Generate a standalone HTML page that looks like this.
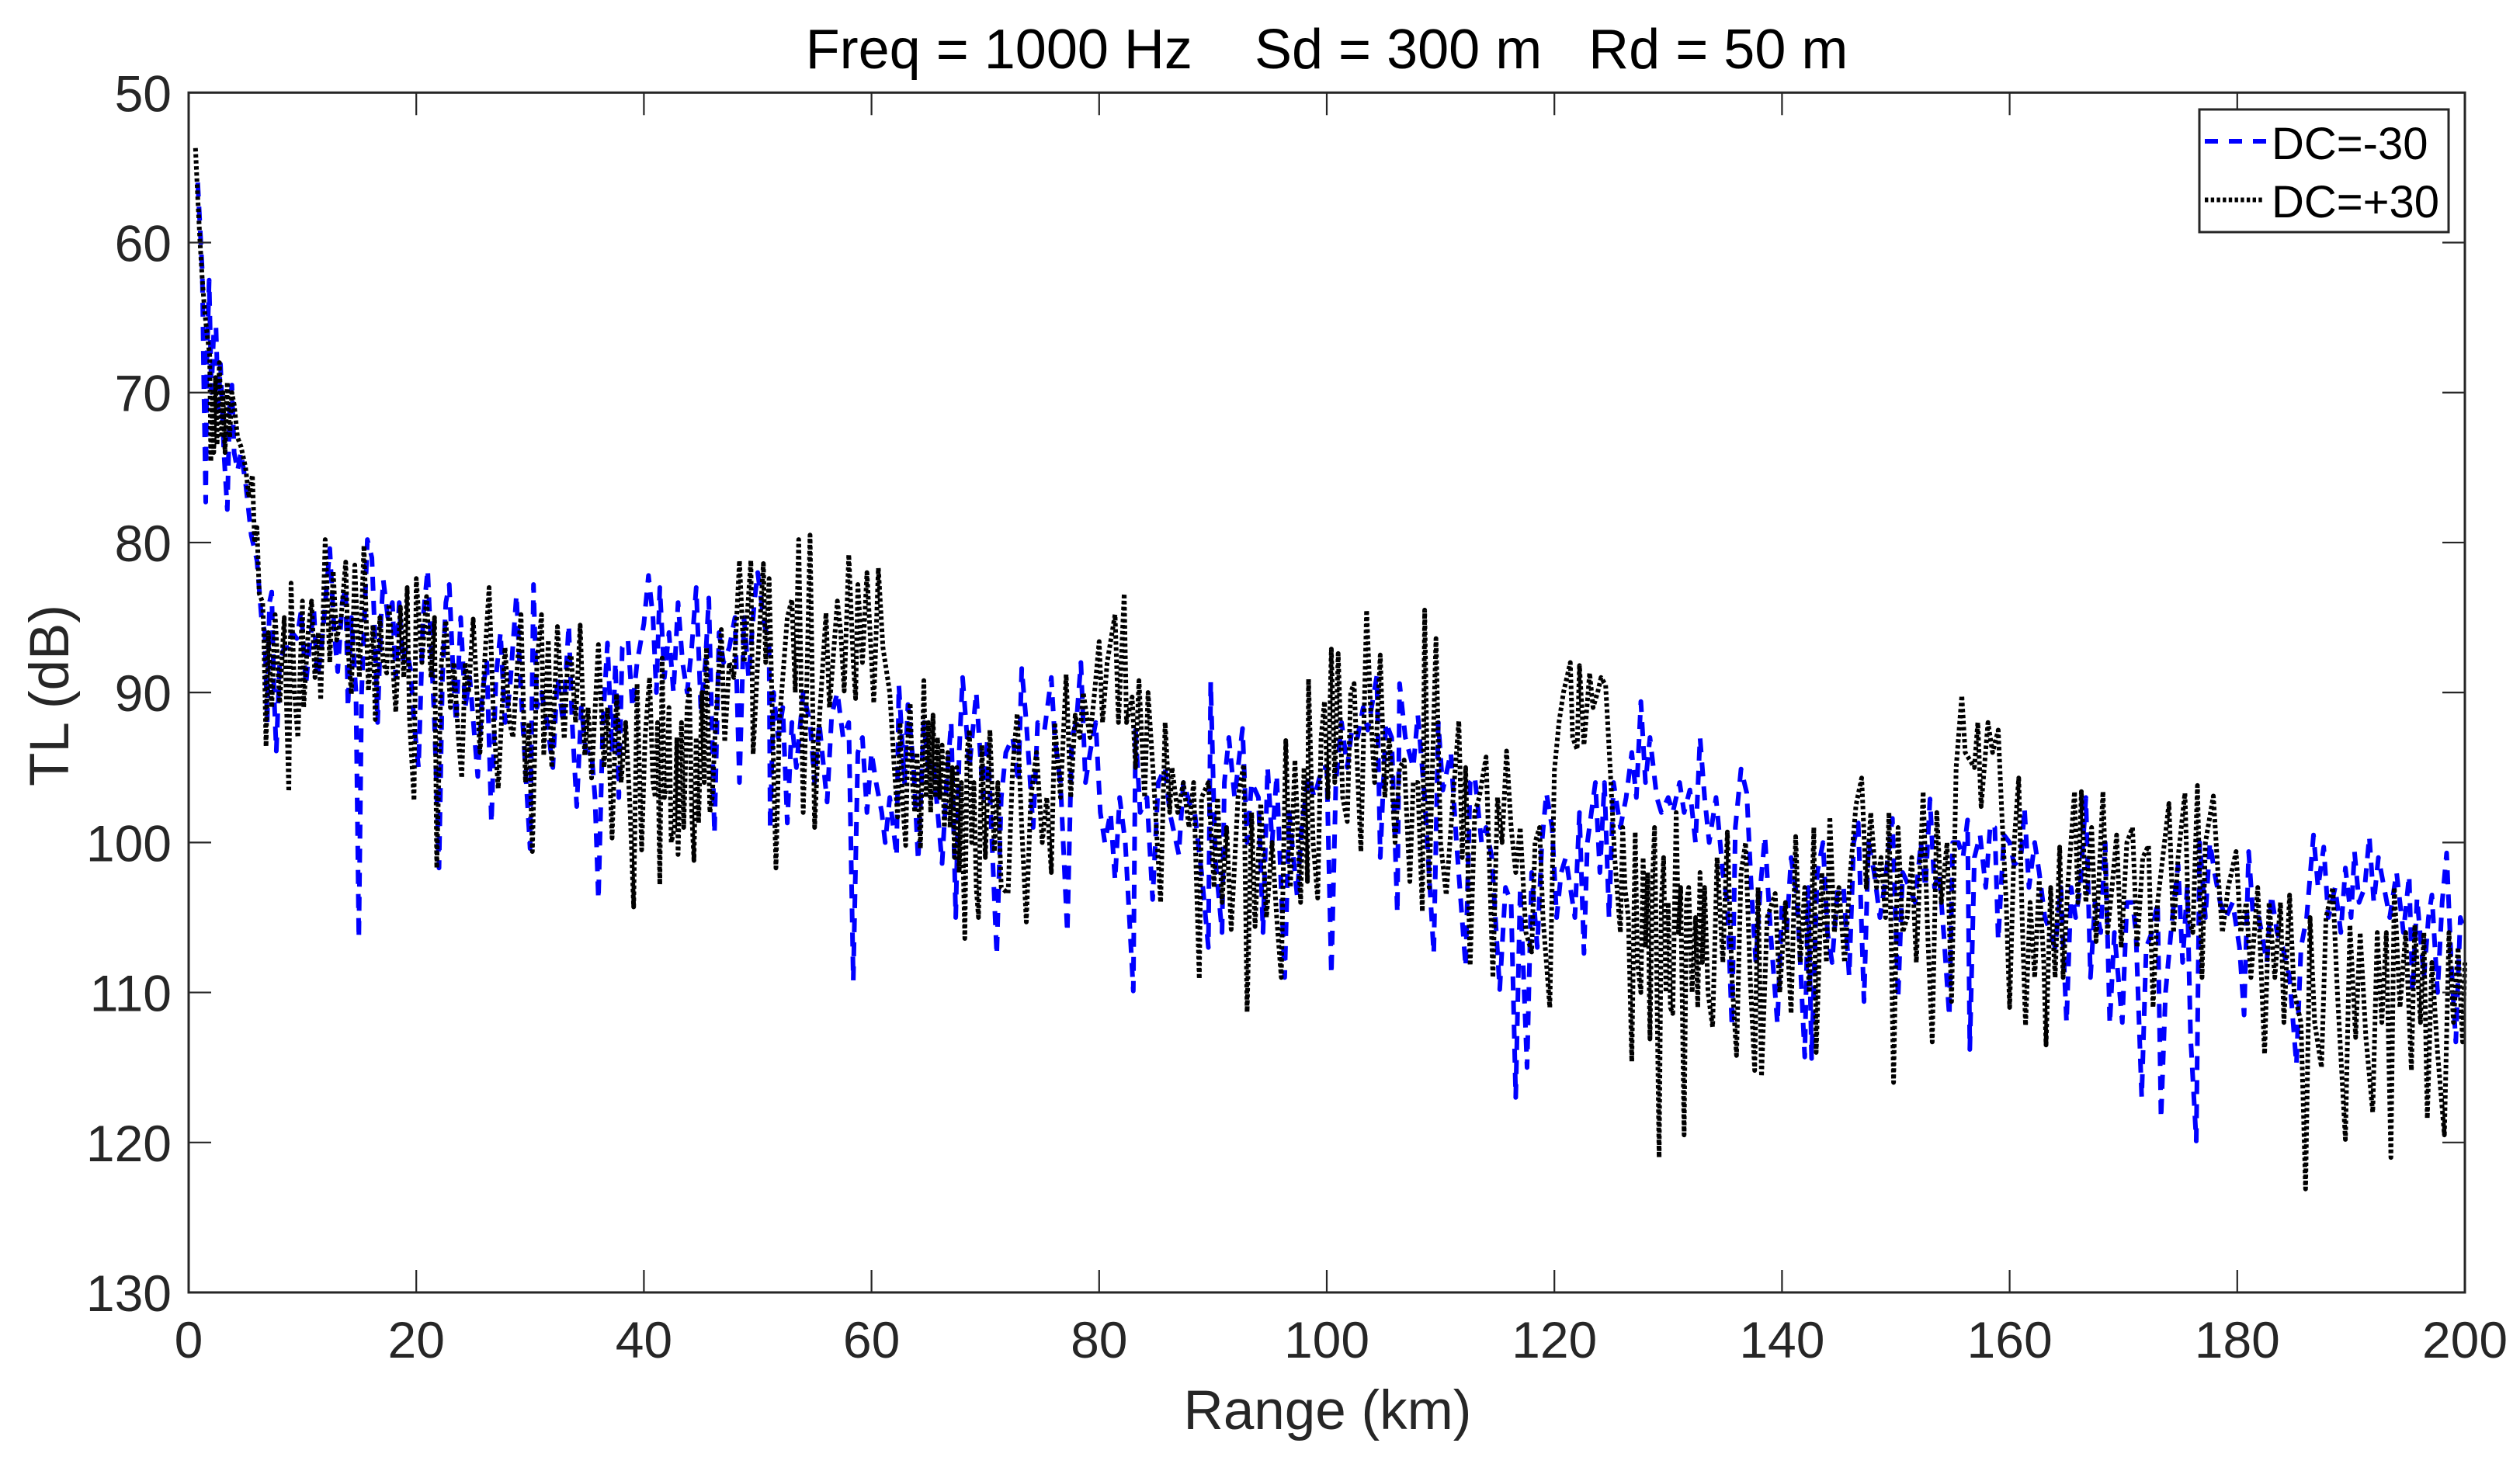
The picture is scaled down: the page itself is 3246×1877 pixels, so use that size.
<!DOCTYPE html>
<html lang="en">
<head>
<meta charset="utf-8">
<title>TL vs Range</title>
<style>
html,body{margin:0;padding:0;background:#fff;width:3246px;height:1877px;overflow:hidden}
svg{display:block}
text{font-family:"Liberation Sans",Arial,sans-serif}
</style>
</head>
<body>
<svg id="chart" xmlns="http://www.w3.org/2000/svg" width="3246" height="1877" viewBox="0 0 3246 1877">
  <rect x="0" y="0" width="3246" height="1877" fill="#ffffff"/>
  <text x="1709" y="88" font-size="72" text-anchor="middle" fill="#000" xml:space="preserve">Freq = 1000 Hz    Sd = 300 m   Rd = 50 m</text>
  <text x="1710" y="1841" font-size="71" text-anchor="middle" fill="#262626">Range (km)</text>
  <text transform="translate(88,896) rotate(-90)" font-size="71" text-anchor="middle" fill="#262626">TL (dB)</text>
  <g id="series"></g>
  <g id="axes"></g>
  <g>
    <rect x="2833" y="141" width="321" height="158" fill="#fff" stroke="#262626" stroke-width="3"/>
    <line x1="2840" y1="182" x2="2920" y2="182" stroke="#0000ff" stroke-width="6" stroke-dasharray="17 14"/>
    <text x="2926" y="205" font-size="58" fill="#000">DC=-30</text>
    <line x1="2840" y1="257.5" x2="2917" y2="257.5" stroke="#000" stroke-width="6" stroke-dasharray="4.4 3.3"/>
    <text x="2926" y="280" font-size="58" fill="#000">DC=+30</text>
  </g>
</svg>
<script>
var xTicks = [0,20,40,60,80,100,120,140,160,180,200];
var yTicks = [50,60,70,80,90,100,110,120,130];

var blueRangeKm = [0.8,1.0,1.2,1.3,1.5,1.6,1.8,2.0,2.2,2.4,2.6,2.8,3.1,3.4,3.6,3.8,4.0,4.3,4.6,5.0,5.5,6.0,6.4,6.7,6.9,7.1,7.3,7.5,7.7,8.0,8.4,8.8,9.1,9.5,9.9,
10.3,10.6,11.0,11.3,11.6,11.9,12.4,12.8,13.1,13.5,13.8,14.0,14.3,14.7,14.95,15.2,15.5,15.7,16.1,16.3,16.6,16.9,17.1,17.5,17.9,18.2,18.5,18.8,19.1,19.5,19.8,
20.2,20.6,21.0,21.3,21.6,22.0,22.3,22.6,22.9,23.2,23.5,23.9,24.3,24.7,25.4,25.8,26.2,26.6,27.0,27.4,27.8,28.2,28.8,29.2,30.0,
30.3,30.6,31.0,31.5,32.0,32.4,32.9,33.4,33.7,34.1,34.5,34.9,35.4,35.7,36.0,36.4,36.8,37.2,37.5,37.8,38.1,38.6,39.0,39.4,40.0,
40.4,40.8,41.1,41.4,41.8,42.2,42.6,43.0,43.4,43.8,44.2,44.6,45.0,45.4,45.7,46.2,46.6,47.0,47.5,48.0,48.4,48.8,49.2,49.7,50.0,
50.5,51.0,51.1,51.4,51.8,52.2,52.6,53.0,53.4,54.0,54.6,55.0,55.4,56.1,56.5,57.0,57.5,58.0,58.4,58.8,59.2,59.6,60.0,
60.4,60.9,61.2,61.6,62.2,62.4,62.9,63.2,63.7,64.1,64.6,65.0,65.4,65.7,66.2,66.6,67.0,67.4,67.7,68.0,68.6,69.2,69.8,70.2,
71.0,71.4,71.8,72.4,72.9,73.2,73.6,74.2,74.6,75.2,75.8,76.1,76.6,77.2,77.6,78.0,78.4,78.8,79.2,79.7,
80.1,80.5,81.0,81.4,81.8,82.3,83.0,83.2,83.6,84.2,84.7,85.2,85.8,86.2,87.0,87.4,88.0,88.4,89.0,89.6,89.8,
90.2,90.8,91.0,91.4,91.9,92.6,93.0,93.4,94.0,94.4,94.8,95.2,95.6,96.3,96.7,97.4,97.8,98.4,98.9,99.6,100.0,
100.4,100.8,101.3,101.8,102.2,102.7,103.2,103.6,104.4,104.7,105.2,105.7,106.2,106.4,106.9,107.6,108.0,108.6,109.4,109.8,
110.2,110.9,111.4,112.2,112.6,113.0,113.6,114.0,114.5,115.2,115.7,116.2,116.6,117.0,117.6,118.0,118.5,118.9,119.3,119.8,
120.2,120.6,121.0,121.4,121.8,122.2,122.6,122.9,123.6,124.0,124.4,124.8,125.2,125.8,126.3,126.8,127.2,127.6,128.0,128.4,129.0,129.4,
130.0,130.4,131.0,131.4,131.9,132.4,132.8,133.2,133.6,134.2,134.8,135.2,135.6,135.9,136.4,136.9,137.3,137.7,138.1,138.5,139.0,139.6,
140.0,140.4,140.8,141.3,141.6,142.0,142.3,142.6,143.1,143.6,144.0,144.4,144.9,145.4,145.9,146.3,146.7,147.2,147.6,148.1,148.6,149.0,149.7,
150.2,150.6,151.2,151.7,152.2,152.6,153.0,153.4,153.8,154.2,154.7,155.0,155.5,155.9,156.3,156.5,156.9,157.4,157.9,158.3,158.7,159.0,159.5,
160.0,160.4,161.0,161.3,161.7,162.2,162.6,163.1,163.6,164.0,164.5,165.0,165.4,165.8,166.2,166.7,167.1,167.5,168.0,168.4,168.8,169.2,169.9,
170.3,170.8,171.1,171.6,172.0,172.5,173.0,173.3,173.7,174.3,174.8,175.2,175.6,175.9,176.4,176.7,177.2,177.6,178.0,178.5,179.0,179.6,
180.2,180.6,181.0,181.4,181.9,182.6,183.0,183.5,184.0,184.6,185.2,185.6,186.1,186.7,187.1,187.6,188.0,188.6,189.1,189.5,
190.0,190.3,190.7,191.2,191.6,192.0,192.4,192.9,193.4,194.0,194.6,195.1,195.4,195.8,196.4,196.8,197.1,197.6,198.0,198.4,198.8,199.2,199.6,200.0];

var blueTlDb = [56,59,62,68,77.3,68,62.5,70,66,65.6,71,68.1,74,77.8,71,69.5,74,75.2,74,76,79.5,81.2,85,86,92,84,83.3,90,93.9,88,87,87,86,86.4,84.5,
89.5,87,84.5,89,87.5,85,80.4,86,88.6,84,83,91,85,90,106.4,90,84,79.8,81,85,92,85,82.5,85,84,89,84,88,87,88.5,92,
95,85,81.8,87,92,101.7,89,84,82.8,88,92,85,91,89,95.6,90,88,98.7,89,86,92,90,83.5,90,100.4,
82.8,91,90,92,95,89,92,85.5,92,97.6,91,94,94,97,103.8,92,86.7,94,88,97,87,86.5,91,88,85.4,
82.2,85,90,83,89,86,90,84,88,90,87,83,91,88,83.7,99.4,86,88,87,85,96,85,89,84,82,
85,87,99.1,90,93,91,98.7,92,95,90,92,96,92,97.3,91.5,90,93,92,109.2,94,93,98,94,
96,98,100,97,100.9,89.5,96,90.8,95,101.2,92,95,94.5,97,101.4,96,92,105,94,89,95,90,97,93,
107.5,97,94,93,96,88.4,92,99,92,92.5,89,93,96,106,93,92,88,96,94,92,
98,100,98,102.5,97,100,109.9,92.5,98,97,103.8,96,95,98,100.8,96,97.5,98,102,107,89.3,
101,106,96,93,97,92.4,100,96,97,106,95,100,95.5,109,98,103.6,99,95.5,97,95,95,
108.8,96,92,95,92.5,93,91,92.5,88.9,101,92,93,104.7,89.4,93,95,91.5,97,107.4,92,
96.5,94,100,108.3,96,95.6,100,99,101,109.8,103,104,117,103,115,102,107,100,96.7,99,
105,102,101,103,105,98,107.4,100,96,102,96,105,96,99,97,94,97,90.6,96,93,97,98,
97,98,96,98,96.5,100,93,97,100,97,102,104,112.3,99,95.1,96.7,103,108,103,99.6,106,112.1,
104,106,101,103.6,108,114.3,103,114.4,102,100,106,108,103,103,108.9,100,98.7,110.6,100,102,105,103,98.4,
110.4,102,103,104,100,103,97.1,103,102,106,111.6,100,100,101,98.5,113.8,101,99.5,103,98.8,99,106.5,99.5,
100,101.5,101,97.7,103,100,102,105,106,107,103,112,103,105,103,97,109,104,106,100,112.1,106,112,
104,104,106,117,107,106,104,118.4,110,105,101.5,108,103,113,119.9,100,105,100,102,104,105,104,
107,111.5,100.6,105,105,108,103.5,106,107,109,114.8,107,105,99.5,103,100.3,105,103,106,101.7,
105,100.6,104,103,99.6,104,101,103,105,102,106,102.2,110,103.7,109,105,103.5,110,104,100.7,108,113.3,105,106];

var blackRangeKm = [0.6,0.8,1.0,1.2,1.4,1.6,1.85,1.95,2.1,2.2,2.35,2.5,2.7,2.9,3.0,3.2,3.4,3.6,3.8,4.0,4.3,4.6,5.0,5.3,5.6,5.8,6.0,6.2,6.5,6.6,6.8,
7.0,7.3,7.6,8.0,8.4,8.8,9.0,9.3,9.6,10.0,10.1,10.5,10.8,11.1,11.4,11.6,12.0,12.4,12.7,13.0,13.4,13.8,14.0,14.3,14.6,15.0,15.4,15.8,16.2,16.4,16.8,17.1,17.4,17.6,18.2,18.6,18.9,19.2,19.4,19.8,
20.0,20.5,20.9,21.3,21.6,21.8,22.2,22.6,23.0,23.3,23.7,24.0,24.3,24.6,25.0,25.6,26.0,26.4,26.8,27.2,27.8,28.2,28.5,28.9,29.2,29.6,29.9,
30.2,30.6,31.0,31.2,31.6,31.9,32.4,33.0,33.3,33.6,34.0,34.4,34.8,35.1,35.4,36.0,36.5,36.8,37.2,37.6,38.0,38.4,38.8,39.1,39.4,39.8,
40.1,40.5,40.8,41.0,41.2,41.4,41.6,41.8,42.0,42.2,42.4,42.7,42.9,43.0,43.3,43.5,43.8,44.0,44.2,44.4,44.6,44.8,45.1,45.3,45.5,45.8,46.0,46.3,46.8,47.1,47.5,47.9,48.4,48.8,49.4,49.6,
50.0,50.5,50.7,51.0,51.6,51.9,52.2,52.6,53.0,53.3,53.6,54.0,54.3,54.6,55.0,55.4,56.0,56.3,56.6,57.0,57.3,57.6,58.0,58.4,58.6,58.8,59.2,59.6,
60.2,60.6,61.0,61.6,62.0,62.3,62.5,62.7,63.0,63.2,63.4,63.6,63.8,64.0,64.3,64.6,64.8,65.0,65.2,65.4,65.6,65.8,66.0,66.2,66.4,66.7,66.9,67.1,67.3,67.5,67.7,67.9,68.2,68.4,68.6,68.8,69.0,69.2,69.4,69.7,
70.0,70.4,70.8,71.1,71.4,72.0,72.4,72.8,73.2,73.6,74.0,74.5,75.0,75.4,75.8,76.1,76.6,77.1,77.5,77.9,78.3,78.6,79.2,79.6,
80.0,80.3,80.7,81.4,81.7,82.2,82.4,82.9,83.2,83.5,84.0,84.3,84.8,85.4,85.8,86.2,86.4,86.9,87.4,87.9,88.3,88.8,89.0,89.6,
90.1,90.4,90.8,91.2,91.6,92.2,92.7,93.0,93.4,93.7,94.2,94.7,95.2,95.6,96.0,96.4,96.8,97.2,97.7,98.0,98.3,98.4,98.8,99.2,99.5,99.8,
100.1,100.4,100.7,101.0,101.4,101.8,102.1,102.4,102.8,103.0,103.5,103.9,104.2,104.7,105.1,105.5,106.0,106.4,106.8,107.3,107.6,108.0,108.4,108.6,109.0,109.6,
110.0,110.5,111.0,111.6,111.9,112.2,112.6,113.0,113.4,114.0,114.6,115.0,115.4,115.8,116.2,116.6,117.0,117.5,118.0,118.3,118.7,119.0,119.6,
120.0,120.4,120.8,121.4,121.6,122.0,122.2,122.6,123.1,123.4,123.8,124.1,124.5,124.9,125.3,125.6,125.8,126.0,126.2,126.5,126.8,127.1,127.3,127.6,127.8,128.0,128.2,128.4,128.6,128.8,129.0,129.2,129.4,129.6,129.8,
130.0,130.2,130.4,130.7,130.9,131.1,131.4,131.6,131.8,132.1,132.4,132.6,132.8,133.0,133.2,133.5,133.9,134.3,134.8,135.2,135.6,136.0,136.4,136.8,137.2,137.6,137.9,138.2,138.7,139.4,139.8,
140.3,140.8,141.2,141.6,142.0,142.4,142.8,143.0,143.5,143.9,144.2,144.6,145.0,145.5,146.0,146.5,147.0,147.4,147.8,148.3,148.7,149.1,149.4,149.8,
150.2,150.6,151.0,151.4,151.8,152.4,152.8,153.2,153.6,154.0,154.5,154.9,155.3,155.8,156.1,156.5,156.9,157.2,157.5,158.1,158.5,159.0,159.3,159.7,
160.0,160.4,160.8,161.1,161.4,161.8,162.2,162.6,163.0,163.2,163.6,164.0,164.4,164.7,165.1,165.7,166.0,166.3,166.7,167.2,167.6,168.2,168.6,169.0,169.4,169.8,
170.3,170.8,171.2,171.7,172.2,172.6,173.0,174.0,174.4,174.8,175.4,175.7,176.1,176.5,176.9,177.2,177.9,178.3,178.7,179.2,179.9,
180.3,180.8,181.2,181.8,182.4,182.8,183.3,183.8,184.1,184.6,185.0,185.6,186.0,186.4,186.8,187.4,187.8,188.4,188.8,189.5,189.9,
190.4,190.8,191.3,191.9,192.3,192.7,193.1,193.5,193.8,194.3,194.8,195.3,195.6,196.1,196.4,196.7,197.1,197.6,198.2,198.6,199.0,199.4,199.8,200.0];

var blackTlDb = [53.7,57,60,62.5,64.5,66,67.5,74.6,70,74,69,73.5,68,73,70,74,69.3,73,70,70.8,73,73.6,75,77,75.5,80,79,83.4,84,86,93.6,
86,91,84.8,90.7,85,96.6,82.7,90,93,83.9,91,86,83.9,89,86,90.5,79.8,88,81.9,86.5,85,81.3,87,90.1,81.5,89,80.2,89.9,85.5,91.8,85,88,88.7,84.1,91.3,84.3,89,83,91.7,97.2,
82.4,88,83.6,89,85,101.7,88,85.2,91,88,93,95.7,88,90,85.1,94,88,83,92,96.4,87,92,93,88,84.8,96,92,
100.6,88,84.8,94.2,86.5,95,85.6,93.1,88,87.5,92,85.5,94.2,91,95.7,86.8,95,91,99.7,90.1,96,92,98,104.3,89.4,100.5,
93,89,96,97,92,102.8,87.7,97,96,91,100,99,93,100.8,92,99,91,89.8,98,101.2,93,98.7,90,96,87,98,97,92,85.8,93.3,88,89,81.2,88,81.2,94.1,
88,81.4,88,82.4,101.7,92,89,85,83.8,90,79.8,98,90,79.5,99,92,84.7,91,88,83.9,86,89.9,80.8,88,90.4,82.8,88,82,
90.7,81.7,87,90,95,98.3,92,97,100.2,93,90.7,96,98,94,100.4,89.2,97,92,98,91.5,97,93,97,93.5,99,94,99,95,101,95,102,96,106.4,94,92.5,100,96,103,105,93.5,
101,92.5,100.6,96,103,103.4,95,91.4,99,105.3,97,94,100,97,102,92,97,88.8,97,91.5,93,90,93,90,
86.6,92,88,84.8,92,83.4,92,90.3,95,89.2,97,90,96,104,92,98,95,98,96,99,96,109.1,97,96,
103,97,104,99,105.8,97,94.8,111.3,98,105.6,97.4,105,100,105,109,93.2,103,94.5,104,95,102.6,89.1,100,103.7,93,90.6,
97,87.1,96,87.4,97,98.6,90,89.4,97,100.6,84.5,92,96,87.5,97,93,100,95,94.5,102.6,96,96,104.6,84.5,103,86.4,
100,103.5,98,91.9,101,95,108.2,98,97,94.3,109,97,100,93.9,99,102,99,106,107.3,100,99,105,111,
95.2,92,90,88,93,93.8,88.2,93.5,88.7,91,90,89,89.5,95,101,104,106,99,103,105,114.6,99.3,108,110,101,107,102,113.1,103,99,109,121,104,101,110,
104,111,111.4,98,106,103,119.5,104,103,110,105,111,102,108,103,110,112.3,101,108,99.3,109,114.2,102,100,109,115.2,103,115.6,105,103.4,110,
104,111.4,99.6,108,103,110,99,114,102,108,98.3,106,103,108,102,97.5,95.7,103,98,103,101,105,98,116,
99,106,105,101,108,96.6,106,113.3,98,104,100,110.6,95,90.2,94,94.5,95,92,97.6,92,94,92.5,97.8,104,
111,100,95.7,105,112.2,104,109,102.5,108,113.5,103,109,100.3,109,103,96.6,104,96.6,104,99,106.6,96.6,106,103,99.5,107,
100,99,107,101,100.2,111,104,97.4,106,101,96.7,105,106,96.2,109,100,96.9,102,106,103,100.6,
106,104,109,103,114.1,104,109,104,112,103.5,110,112,123.1,105,112,115,105,103,110,119.8,105.5,
113,106,113,118,106,112,106,121,103,111,106,115.2,105.5,112,106,118.4,108,114,119.5,106,112,107,113.3,108];

var plotLeft = 243;
var plotRight = 3175;
var plotTop = 119.3;
var plotBottom = 1665;
var xMin = 0;
var xMax = 200;
var yMin = 50;
var yMax = 130;

function xScale(km) {
  return plotLeft + (km - xMin) * (plotRight - plotLeft) / (xMax - xMin);
}
function yScale(db) {
  return plotTop + (db - yMin) * (plotBottom - plotTop) / (yMax - yMin);
}
var SVG_NS = 'http://www.w3.org/2000/svg';

function buildPoints(ranges, values) {
  var n = Math.min(ranges.length, values.length);
  var parts = [];
  for (var i = 0; i < n; i++) {
    parts.push(xScale(ranges[i]).toFixed(1) + ',' + yScale(values[i]).toFixed(1));
  }
  return parts.join(' ');
}

var seriesGroup = document.getElementById('series');
var axesGroup = document.getElementById('axes');

var blueLine = document.createElementNS(SVG_NS, 'polyline');


blueLine.setAttribute('points', buildPoints(blueRangeKm, blueTlDb));
blueLine.setAttribute('fill', 'none');
blueLine.setAttribute('stroke', '#0000ff');
blueLine.setAttribute('stroke-width', '6');
blueLine.setAttribute('stroke-dasharray', '18 13');
blueLine.setAttribute('stroke-linejoin', 'round');
seriesGroup.appendChild(blueLine);

var blackLine = document.createElementNS(SVG_NS, 'polyline');


blackLine.setAttribute('points', buildPoints(blackRangeKm, blackTlDb));
blackLine.setAttribute('fill', 'none');
blackLine.setAttribute('stroke', '#000000');
blackLine.setAttribute('stroke-width', '6');
blackLine.setAttribute('stroke-dasharray', '4.4 3.4');
blackLine.setAttribute('stroke-linejoin', 'round');
seriesGroup.appendChild(blackLine);

var frame = document.createElementNS(SVG_NS, 'rect');


frame.setAttribute('x', plotLeft);
frame.setAttribute('y', plotTop);
frame.setAttribute('width', plotRight - plotLeft);
frame.setAttribute('height', plotBottom - plotTop);
frame.setAttribute('fill', 'none');
frame.setAttribute('stroke', '#262626');
frame.setAttribute('stroke-width', '3');
axesGroup.appendChild(frame);

var tickLength = 29;

function addLine(parent, x1, y1, x2, y2, name) {
  var line = document.createElementNS(SVG_NS, 'line');
  
  
  line.setAttribute('x1', x1);
  line.setAttribute('y1', y1);
  line.setAttribute('x2', x2);
  line.setAttribute('y2', y2);
  line.setAttribute('stroke', '#262626');
  line.setAttribute('stroke-width', '2.2');
  parent.appendChild(line);
}

function addLabel(parent, x, y, anchor, content, name) {
  var label = document.createElementNS(SVG_NS, 'text');
  
  
  label.setAttribute('x', x);
  label.setAttribute('y', y);
  label.setAttribute('text-anchor', anchor);
  label.setAttribute('font-size', '66');
  label.setAttribute('fill', '#262626');
  label.textContent = content;
  parent.appendChild(label);
}

xTicks.forEach(function (tick) {
  var x = xScale(tick);
  addLine(axesGroup, x, plotBottom, x, plotBottom - tickLength, 'x-tick-bottom-' + tick);
  addLine(axesGroup, x, plotTop, x, plotTop + tickLength, 'x-tick-top-' + tick);
  addLabel(axesGroup, x, 1749, 'middle', String(tick), 'x-tick-label-' + tick);
});

yTicks.forEach(function (tick) {
  var y = yScale(tick);
  addLine(axesGroup, plotLeft, y, plotLeft + tickLength, y, 'y-tick-left-' + tick);
  addLine(axesGroup, plotRight, y, plotRight - tickLength, y, 'y-tick-right-' + tick);
  addLabel(axesGroup, 221, y + 24, 'end', String(tick), 'y-tick-label-' + tick);
});
</script>
</body>
</html>
